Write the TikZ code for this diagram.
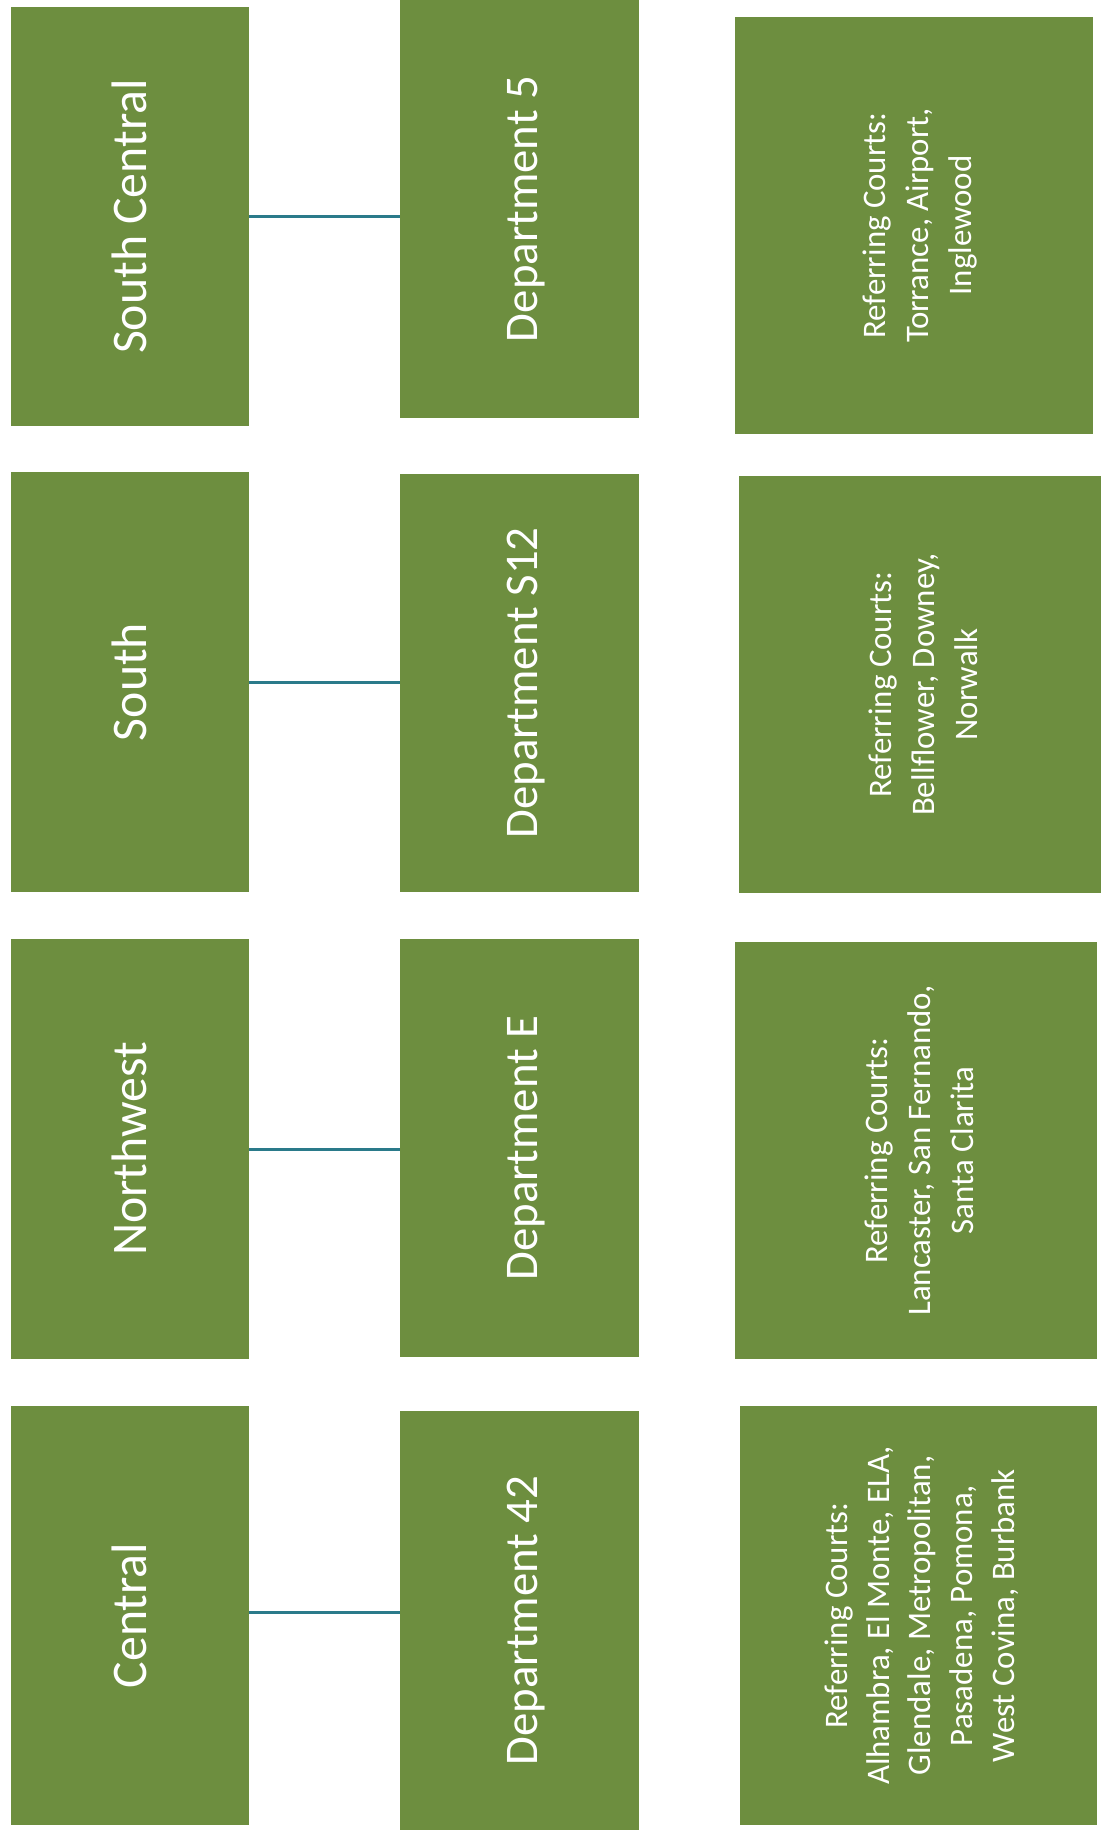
\documentclass[tikz,border=0pt]{standalone}
\usepackage{fontspec}
\setmainfont{Carlito}
\usepackage{graphicx}
\definecolor{boxgreen}{RGB}{109,142,63}
\definecolor{linkteal}{RGB}{42,122,138}
\tikzset{
  gbox/.style={fill=boxgreen, draw=none, inner sep=0pt, text=white, align=center},
  bigtxt/.style={font=\fontsize{50}{60}\selectfont},
  midtxt/.style={font=\fontsize{47}{56}\selectfont},
  smalltxt/.style={font=\fontsize{33}{43}\selectfont},
  link/.style={draw=linkteal, line width=3bp}
}
\newcommand{\rtxt}[2][5bp]{\rotatebox{90}{\raisebox{-#1}[\height][\depth]{\begin{tabular}{@{}c@{}}#2\end{tabular}}}}
\begin{document}
\begin{tikzpicture}[x=1bp,y=-1bp]
\useasboundingbox (0,0) rectangle (1107,1830);
% column 1
\node[gbox,bigtxt,minimum width=238bp,minimum height=419bp] (sc) at (130,216.5) {\rtxt{South Central}};
\node[gbox,bigtxt,minimum width=238bp,minimum height=420bp] (so) at (130,682) {\rtxt{South}};
\node[gbox,bigtxt,minimum width=238bp,minimum height=420bp] (nw) at (130,1149) {\rtxt{Northwest}};
\node[gbox,bigtxt,minimum width=238bp,minimum height=419bp] (ce) at (130,1615.5) {\rtxt{Central}};
% column 2
\node[gbox,midtxt,minimum width=239bp,minimum height=418bp] (d5) at (519.5,209) {\rtxt[7bp]{Department 5}};
\node[gbox,midtxt,minimum width=239bp,minimum height=418bp] (ds12) at (519.5,683) {\rtxt[7bp]{Department S12}};
\node[gbox,midtxt,minimum width=239bp,minimum height=418bp] (de) at (519.5,1148) {\rtxt[7bp]{Department E}};
\node[gbox,midtxt,minimum width=239bp,minimum height=419bp] (d42) at (519.5,1620.5) {\rtxt[7bp]{Department 42}};
% column 3
\node[gbox,smalltxt,minimum width=358bp,minimum height=417bp] (r1) at (914,225.5) {\rtxt[6bp]{Referring Courts:\\Torrance, Airport,\\Inglewood}};
\node[gbox,smalltxt,minimum width=362bp,minimum height=417bp] (r2) at (920,684.5) {\rtxt[6bp]{Referring Courts:\\Bellflower, Downey,\\Norwalk}};
\node[gbox,smalltxt,minimum width=362bp,minimum height=417bp] (r3) at (916,1150.5) {\rtxt[6bp]{Referring Courts:\\Lancaster, San Fernando,\\Santa Clarita}};
\node[gbox,font=\fontsize{33}{42}\selectfont,minimum width=357bp,minimum height=419bp] (r4) at (918.5,1615.5) {\rtxt[4bp]{Referring Courts:\\Alhambra, El Monte, ELA,\\Glendale, Metropolitan,\\Pasadena, Pomona,\\West Covina, Burbank}};
% connectors
\draw[link] (sc.east) -- (sc.east -| d5.west);
\draw[link] (so.east) -- (so.east -| ds12.west);
\draw[link] (nw.east) -- (nw.east -| de.west);
\draw[link] ([yshift=3.5bp]ce.east) -- ([yshift=3.5bp]ce.east -| d42.west);
\end{tikzpicture}
\end{document}
